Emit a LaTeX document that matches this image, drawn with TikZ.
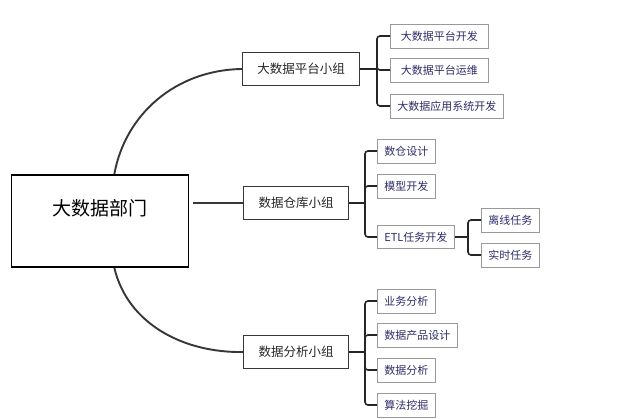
\documentclass[tikz,border=0pt]{standalone}
\usepackage{fontspec}
\setmainfont{Noto Sans CJK SC}
\usepackage{xcolor}
\usepackage{tikz}
\usetikzlibrary{positioning,calc}
\definecolor{linegray}{RGB}{55,55,55}
\definecolor{leaftext}{RGB}{45,45,105}

\tikzset{
    rootbox/.style={draw=black, line width=1.8pt, inner sep=0pt, minimum width=177pt, font=\fontsize{19}{19}\selectfont},
    groupbox/.style={draw=linegray, line width=1.1pt, inner xsep=12pt, minimum height=33pt, font=\fontsize{12.5}{13}\selectfont, text=black!85},
    leafbox/.style={draw=gray!80, line width=0.7pt, inner xsep=7pt, minimum height=24pt, anchor=west, font=\fontsize{11}{12}\selectfont, text=leaftext},
    link/.style={draw=linegray, line width=1.9pt},
    branch/.style={draw=black!85, line width=1.6pt, rounded corners=3pt}
}

\begin{document}
\begin{tikzpicture}[x=1pt, y=-1pt]
    \useasboundingbox (0,0) rectangle (620,419);
    \node[rootbox, anchor=base, text height=41pt, text depth=51pt] (root) at (100,216) {大数据部门};

    \node[groupbox, minimum width=117pt] (g1) at (301,69) {大数据平台小组};
    \node[groupbox, minimum width=105pt] (g2) at (296,203) {数据仓库小组};
    \node[groupbox, minimum width=105pt] (g3) at (296,352) {数据分析小组};

    \draw[link] (root.73) .. controls (125,115) and (175,70) .. (g1.west);
    \draw[link] ([xshift=4pt]g2.west -| root.east) -- (g2.west);
    \draw[link] (root.-73) .. controls (128,325) and (185,353) .. (g3.west);

    % platform group
    \node[leafbox, minimum width=98pt] (p1) at (390,36) {大数据平台开发};
    \node[leafbox, minimum width=98pt] (p2) at (390,70) {大数据平台运维};
    \node[leafbox, minimum width=107pt] (p3) at (390,106) {大数据应用系统开发};
    \coordinate (j1) at (377,69);
    \draw[branch] (g1.east) -- (j1);
    \foreach \n in {p1,p2,p3} \draw[branch] (j1) |- (\n.west);

    % warehouse group
    \node[leafbox] (w1) at (377,151) {数仓设计};
    \node[leafbox] (w2) at (377,186) {模型开发};
    \node[leafbox, minimum height=23pt] (w3) at (377,237) {ETL任务开发};
    \coordinate (j2) at (365,203);
    \draw[branch] (g2.east) -- (j2);
    \foreach \n in {w1,w2,w3} \draw[branch] (j2) |- (\n.west);

    \node[leafbox] (e1) at (481,220) {离线任务};
    \node[leafbox] (e2) at (481,255) {实时任务};
    \coordinate (j3) at (468,237);
    \draw[branch] (w3.east) -- (j3);
    \foreach \n in {e1,e2} \draw[branch] (j3) |- (\n.west);

    % analysis group
    \node[leafbox] (a1) at (377,301) {业务分析};
    \node[leafbox] (a2) at (377,335) {数据产品设计};
    \node[leafbox] (a3) at (377,370) {数据分析};
    \node[leafbox] (a4) at (377,405) {算法挖掘};
    \coordinate (j4) at (365,352);
    \draw[branch] (g3.east) -- (j4);
    \foreach \n in {a1,a2,a3,a4} \draw[branch] (j4) |- (\n.west);
\end{tikzpicture}
\end{document}
